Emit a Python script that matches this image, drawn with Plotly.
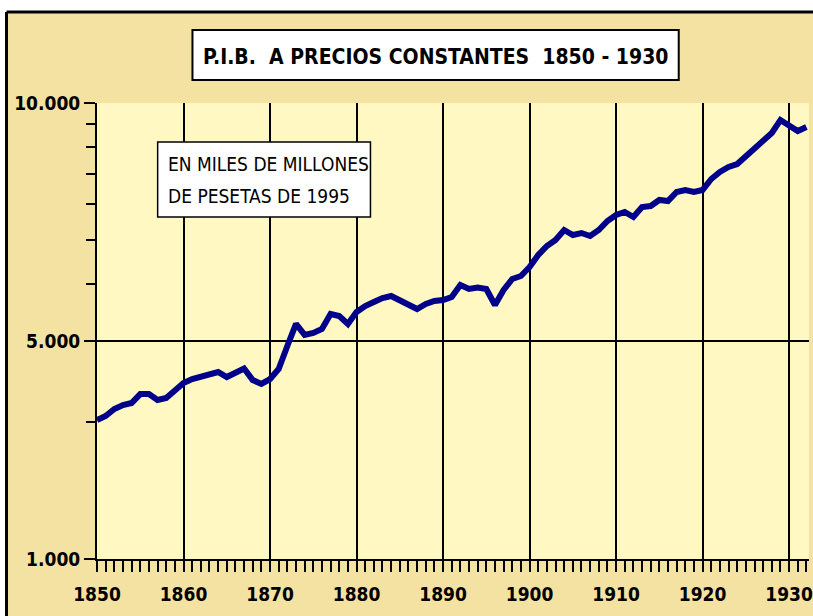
import plotly.graph_objects as go

# PIB a precios constantes, miles de millones de pesetas de 1995
years = list(range(1850, 1933))
pib = [
    2017, 2059, 2133, 2176, 2198, 2300, 2300, 2232, 2254, 2348,
    2432, 2481, 2506, 2545, 2571, 2506, 2571, 2617, 2469, 2420,
    2481, 2610, 2932, 3277, 3100, 3131, 3194, 3445, 3411, 3277,
    3480, 3588, 3661, 3736, 3774, 3698, 3606, 3534, 3624, 3680,
    3698, 3754, 3990, 3910, 3940, 3910, 3606, 3890, 4112, 4175,
    4368, 4642, 4858, 5008, 5266, 5135, 5187, 5109, 5266, 5510,
    5680, 5768, 5623, 5915, 5945, 6128, 6097, 6381, 6446, 6381,
    6446, 6813, 7058, 7238, 7348, 7651, 8006, 8296, 8596, 9178,
    8905, 8682, 8860,
]

x_ticks = list(range(1850, 1931, 10))
y_ticks = [1000, 3000, 10000]
y_tick_text = ["1.000", "5.000", "10.000"]
y_minor = [2000, 4000, 5000, 6000, 7000, 8000, 9000]

title = "P.I.B.  A PRECIOS CONSTANTES  1850 - 1930"
note_lines = ["EN MILES DE MILLONES", "DE PESETAS DE 1995"]

FONT = "DejaVu Sans Condensed, Liberation Sans Narrow, sans-serif"

W, H = 813, 616
L, R, T, B = 97, 0, 103, 616 - 559


def px_x(p):
    return (p - L) / (W - L - R)


def px_y(p):
    return (H - B - p) / (H - B - T)


fig = go.Figure()

fig.add_trace(go.Scatter(
    x=years,
    y=pib,
    mode="lines",
    line=dict(color="#00008B", width=6),
    hoverinfo="x+y",
))

# fondo exterior, area de trazado y marco (solo lados superior e izquierdo visibles)
fig.add_shape(type="rect", xref="paper", yref="paper", layer="below",
              x0=px_x(6), x1=px_x(840), y0=px_y(640), y1=px_y(12),
              fillcolor="#F3E2A2", line=dict(width=0))
fig.add_shape(type="rect", xref="paper", yref="paper", layer="below",
              x0=0, x1=1, y0=0, y1=1,
              fillcolor="#FFF8C2", line=dict(width=0))
fig.add_shape(type="line", xref="paper", yref="paper",
              x0=px_x(6), x1=px_x(840), y0=px_y(12), y1=px_y(12),
              line=dict(color="black", width=3))
fig.add_shape(type="line", xref="paper", yref="paper",
              x0=px_x(6), x1=px_x(6), y0=px_y(12), y1=px_y(640),
              line=dict(color="black", width=3))

# caja del titulo
fig.add_shape(type="rect", xref="paper", yref="paper",
              x0=px_x(193), x1=px_x(682), y0=px_y(80), y1=px_y(30),
              fillcolor="white", line=dict(color="black", width=2))
fig.add_annotation(text=title, xref="paper", yref="paper",
                   x=px_x(437), y=px_y(57), xanchor="center", yanchor="middle",
                   showarrow=False,
                   font=dict(family=FONT, size=21, color="black", weight="bold"))

# caja de unidades
fig.add_shape(type="rect", xref="paper", yref="paper",
              x0=px_x(158), x1=px_x(372), y0=px_y(217), y1=px_y(142),
              fillcolor="white", line=dict(color="black", width=1.5))
for i, line in enumerate(note_lines):
    fig.add_annotation(text=line, xref="paper", yref="paper",
                       x=px_x(166), y=px_y(164 + 32 * i),
                       xanchor="left", yanchor="middle", showarrow=False,
                       font=dict(family=FONT, size=19, color="black"))

fig.update_xaxes(
    range=[1850, 1932.3],
    tickvals=x_ticks,
    ticks="outside", ticklen=11, tickwidth=1.5, tickcolor="black",
    ticklabelstandoff=6,
    ticklabeloverflow="allow",
    showgrid=True, gridcolor="black", gridwidth=1.5,
    showline=True, linecolor="black", linewidth=2,
    zeroline=False,
    minor=dict(dtick=1, ticks="outside", ticklen=11, tickwidth=1.5,
               tickcolor="black", showgrid=False),
    tickfont=dict(family=FONT, size=19, color="black", weight="bold"),
)

fig.update_yaxes(
    type="log",
    range=[3, 4],
    tickvals=y_ticks, ticktext=y_tick_text,
    ticks="outside", ticklen=11, tickwidth=1.5, tickcolor="black",
    showgrid=True, gridcolor="black", gridwidth=1.5,
    showline=True, linecolor="black", linewidth=2,
    zeroline=False,
    minor=dict(tickvals=y_minor, ticks="outside", ticklen=9, tickwidth=1.5,
               tickcolor="black", showgrid=False),
    tickfont=dict(family=FONT, size=19, color="black", weight="bold"),
)

fig.update_layout(
    width=W, height=H,
    margin=dict(l=L, r=R, t=T, b=B),
    paper_bgcolor="white",
    plot_bgcolor="rgba(0,0,0,0)",
    showlegend=False,
)

# sin margen ni barras de desplazamiento para que la figura ocupe toda la ventana
fig.write_html(
    "out.html",
    config={"displayModeBar": False},
    post_script=(
        "document.documentElement.style.overflow='hidden';"
        "document.body.style.margin='0';"
        "document.body.style.overflow='hidden';"
    ),
)
